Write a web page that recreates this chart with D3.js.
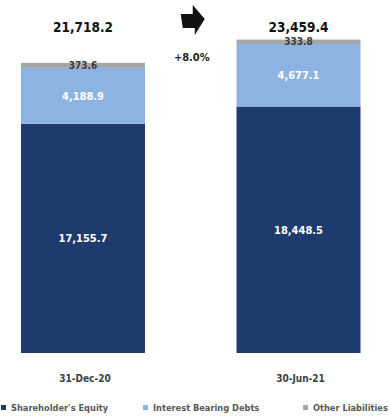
<!DOCTYPE html>
<html>
<head>
<meta charset="utf-8">
<script src="https://cdn.jsdelivr.net/npm/d3@7"></script>
<style>
  html, body { margin: 0; padding: 0; background: #ffffff; }
  svg { display: block; }
  text { font-family: "Liberation Sans Narrow", "DejaVu Sans Condensed", "Liberation Sans", sans-serif; font-weight: bold; }
</style>
</head>
<body>
<svg id="chart" width="390" height="419"></svg>
<script>
// Balance-sheet funding structure, two reporting dates
const categories = ["31-Dec-20", "30-Jun-21"];
const seriesNames = ["Shareholder's Equity", "Interest Bearing Debts", "Other Liabilities"];
const equity = [17155.7, 18448.5];
const interestDebts = [4188.9, 4677.1];
const otherLiabilities = [373.6, 333.8];
const totals = [21718.2, 23459.4];
const growthLabel = "+8.0%";

const colors = ["#1d3b6c", "#8db3e2", "#a6a6a6"];
const labelColors = ["#ffffff", "#ffffff", "#3a3a3a"];

const svg = d3.select("#chart");
const fmt = d3.format(",.1f");

const x = d3.scaleBand()
  .domain(categories)
  .range([21, 360.5])
  .paddingInner(0.4246)
  .paddingOuter(0);

const y = d3.scaleLinear()
  .domain([0, 25000])
  .range([353, 19]);

const rows = categories.map((c, i) => ({
  cat: c,
  [seriesNames[0]]: equity[i],
  [seriesNames[1]]: interestDebts[i],
  [seriesNames[2]]: otherLiabilities[i],
  total: totals[i]
}));

const stacked = d3.stack().keys(seriesNames)(rows);

const layers = svg.append("g").selectAll("g")
  .data(stacked)
  .join("g")
  .attr("fill", (d, i) => colors[i]);

layers.selectAll("rect")
  .data(d => d)
  .join("rect")
  .attr("x", d => x(d.data.cat))
  .attr("width", x.bandwidth())
  .attr("y", d => y(d[1]))
  .attr("height", d => y(d[0]) - y(d[1]));

// Segment value labels
stacked.forEach((layer, li) => {
  svg.append("g").selectAll("text")
    .data(layer)
    .join("text")
    .attr("x", d => x(d.data.cat) + x.bandwidth() / 2)
    .attr("y", d => (y(d[0]) + y(d[1])) / 2)
    .attr("dy", "0.35em")
    .attr("text-anchor", "middle")
    .attr("font-size", li === 2 ? 10 : 11)
    .attr("fill", labelColors[li])
    .text(d => fmt(d[1] - d[0]));
});

// Totals above the bars
svg.append("g").selectAll("text")
  .data(rows)
  .join("text")
  .attr("x", d => x(d.cat) + x.bandwidth() / 2)
  .attr("y", d => Math.min(y(d.total) - 5, 32))
  .attr("text-anchor", "middle")
  .attr("font-size", 13.5)
  .attr("fill", "#111111")
  .text(d => fmt(d.total));

// Growth arrow between the bars
const midX = (x(categories[0]) + x.bandwidth() + x(categories[1])) / 2;
const arrow = svg.append("g").attr("transform", `translate(${midX + 1},20)`);
arrow.append("path")
  .attr("d", "M-11,-6 L1,-6 L1,-15 L13,-1 L3,15 L3,8 L-9,8 Z")
  .attr("fill", "#111111");
svg.append("text")
  .attr("x", midX + 1)
  .attr("y", 61)
  .attr("text-anchor", "middle")
  .attr("font-size", 11)
  .attr("fill", "#222222")
  .text(growthLabel);

// Category axis labels
svg.append("g").selectAll("text")
  .data(categories)
  .join("text")
  .attr("x", d => x(d) + x.bandwidth() / 2 + 2)
  .attr("y", 382)
  .attr("text-anchor", "middle")
  .attr("font-size", 10)
  .attr("fill", "#404040")
  .text(d => d);

// Legend
const legendX = [1, 143, 303];
const legend = svg.append("g").selectAll("g")
  .data(seriesNames)
  .join("g")
  .attr("transform", (d, i) => `translate(${legendX[i]},408)`);
legend.append("rect")
  .attr("x", 0).attr("y", -3)
  .attr("width", 5).attr("height", 5)
  .attr("fill", (d, i) => colors[i]);
legend.append("text")
  .attr("x", 10)
  .attr("y", 0)
  .attr("dy", "0.35em")
  .attr("font-size", 9.2)
  .attr("fill", "#595959")
  .text(d => d);
</script>
</body>
</html>
